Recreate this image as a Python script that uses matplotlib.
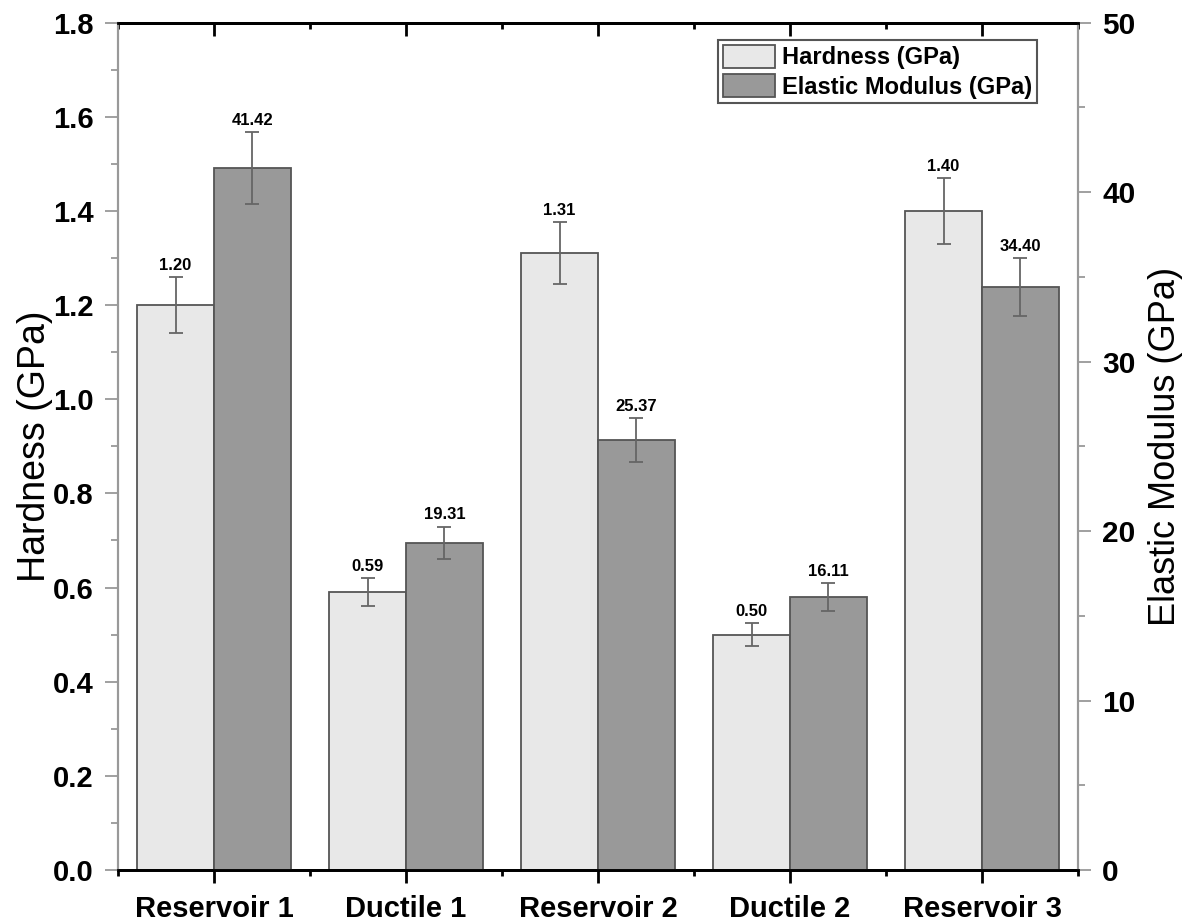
import matplotlib.pyplot as plt
import numpy as np

plt.rcParams['font.family'] = ['Liberation Sans', 'DejaVu Sans']

samples = ['Reservoir 1', 'Ductile 1', 'Reservoir 2', 'Ductile 2', 'Reservoir 3']
hardness = [1.20, 0.59, 1.31, 0.50, 1.40]
hardness_err = [0.06, 0.03, 0.066, 0.025, 0.07]
modulus = [41.42, 19.31, 25.37, 16.11, 34.40]
modulus_err = [2.1, 0.95, 1.3, 0.8, 1.7]

x = np.arange(len(samples))
width = 0.4
err_style = dict(ecolor='#666666', elinewidth=1.3, capsize=5, capthick=1.3)

fig = plt.figure(figsize=(11.85, 9.24), dpi=100)
ax = fig.add_axes([0.0996, 0.0584, 0.8101, 0.9172])
ax2 = ax.twinx()

b1 = ax.bar(x - width / 2, hardness, width, yerr=hardness_err, color='#e8e8e8',
            edgecolor='#555555', linewidth=1.3, error_kw=err_style, label='Hardness (GPa)')
b2 = ax2.bar(x + width / 2, modulus, width, yerr=modulus_err, color='#999999',
             edgecolor='#555555', linewidth=1.3, error_kw=err_style, label='Elastic Modulus (GPa)')

# value labels sit just above the error caps
for xi, v, e in zip(x - width / 2, hardness, hardness_err):
    ax.annotate(f'{v:.2f}', (xi, v + e), xytext=(0, 3), textcoords='offset points',
                ha='center', va='bottom', fontsize=12, fontweight='bold')
for xi, v, e in zip(x + width / 2, modulus, modulus_err):
    ax2.annotate(f'{v:.2f}', (xi, v + e), xytext=(0, 3), textcoords='offset points',
                 ha='center', va='bottom', fontsize=12, fontweight='bold')

ax.set_xlim(-0.5, 4.5)
ax.set_ylim(0, 1.8)
ax2.set_ylim(0, 50)

ax.set_xticks(x)
ax.set_xticklabels(samples, fontsize=21, fontweight='bold')
ax.set_xticks(np.arange(-0.5, 4.6, 1.0), minor=True)
ax.set_yticks(np.arange(0, 1.81, 0.2))
ax.set_yticks(np.arange(0, 1.81, 0.1), minor=True)
ax.set_yticklabels([f'{t:.1f}' for t in np.arange(0, 1.81, 0.2)], fontsize=21, fontweight='bold')
ax2.set_yticks(np.arange(0, 51, 10))
ax2.set_yticks(np.arange(0, 51, 5), minor=True)
ax2.set_yticklabels([str(t) for t in range(0, 51, 10)], fontsize=21.5, fontweight='bold')

ax.tick_params(axis='x', which='major', direction='out', length=9, width=2, color='black', pad=9)
ax.tick_params(axis='x', which='minor', direction='out', length=4.5, width=2, color='black')
ax.tick_params(axis='y', which='major', direction='out', length=9.5, width=1.3, color='#999999', pad=8)
ax.tick_params(axis='y', which='minor', direction='out', length=5, width=1.3, color='#999999')
ax2.tick_params(axis='y', which='major', direction='out', length=9.5, width=1.3, color='#999999', pad=8)
ax2.tick_params(axis='y', which='minor', direction='out', length=5, width=1.3, color='#999999')

# top axis mirrors the category ticks, pointing inward
top = ax.secondary_xaxis('top')
top.set_xticks(x)
top.set_xticks(np.arange(-0.5, 4.6, 1.0), minor=True)
top.tick_params(axis='x', which='major', direction='in', length=9.5, width=2, labeltop=False)
top.tick_params(axis='x', which='minor', direction='in', length=4.5, width=2)
top.spines['top'].set_linewidth(2)

for a in (ax, ax2):
    a.spines['bottom'].set_linewidth(2)
    a.spines['top'].set_linewidth(2)
    a.spines['left'].set_color('#999999')
    a.spines['left'].set_linewidth(1.5)
    a.spines['right'].set_color('#999999')
    a.spines['right'].set_linewidth(1.5)

ax.set_ylabel('Hardness (GPa)', fontsize=27, labelpad=0)
ax2.set_ylabel('Elastic Modulus (GPa)', fontsize=26, labelpad=9)

leg = ax2.legend([b1, b2], ['Hardness (GPa)', 'Elastic Modulus (GPa)'], loc='upper right',
                 bbox_to_anchor=(0.957, 0.979), fancybox=False, framealpha=1, edgecolor='#555555',
                 prop={'size': 17, 'weight': 'bold'}, handlelength=2.2, handleheight=1.1,
                 borderpad=0.2, labelspacing=0.2, handletextpad=0.3, borderaxespad=0)
leg.get_frame().set_linewidth(1.5)

fig.savefig('out.png', dpi=100)
